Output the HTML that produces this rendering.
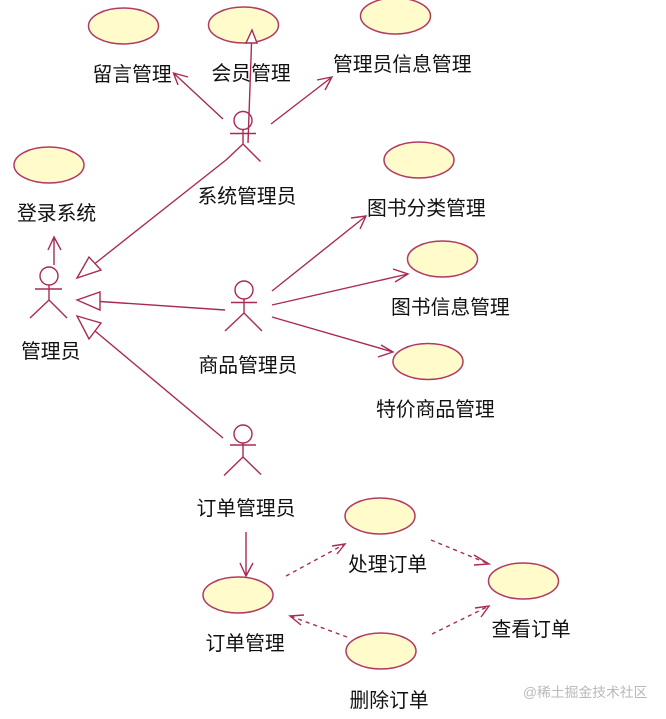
<!DOCTYPE html>
<html><head><meta charset="utf-8"><style>
html,body{margin:0;padding:0;background:#fff;width:666px;height:719px;overflow:hidden}
svg{display:block;filter:blur(0.35px)}
text{font-family:"Liberation Sans","WenQuanYi Zen Hei","Noto Sans CJK SC",sans-serif;font-size:19.8px;fill:#111}
.e{fill:#fffbcb;stroke:#b23a62;stroke-width:1.5}
.l{fill:none;stroke:#a82a55;stroke-width:1.4}
.d{fill:none;stroke:#a82a55;stroke-width:1.4;stroke-dasharray:4 4}
.a{fill:#fff;stroke:#a82a55;stroke-width:1.4}
</style></head><body>
<svg width="666" height="719" viewBox="0 0 666 719" xmlns="http://www.w3.org/2000/svg">
<rect width="666" height="719" fill="#fff"/>
<ellipse class="e" cx="123.5" cy="26" rx="35" ry="18"/>
<ellipse class="e" cx="243.5" cy="25" rx="35" ry="18"/>
<ellipse class="e" cx="395.5" cy="16" rx="35" ry="18"/>
<ellipse class="e" cx="49" cy="165" rx="35" ry="18"/>
<ellipse class="e" cx="419" cy="160" rx="35" ry="18"/>
<ellipse class="e" cx="442.5" cy="259" rx="35" ry="18"/>
<ellipse class="e" cx="428" cy="361.500" rx="35" ry="18"/>
<ellipse class="e" cx="380" cy="516" rx="35" ry="18"/>
<ellipse class="e" cx="523.500" cy="581" rx="35" ry="18"/>
<ellipse class="e" cx="238" cy="595" rx="35" ry="18"/>
<ellipse class="e" cx="381" cy="651" rx="35" ry="18"/>
<circle class="l" cx="243" cy="120.500" r="9"/><path class="l" d="M230 133.500H256M243 129.500V144M243 144L260.500 161.500M243 144L226 160"/>
<circle class="l" cx="49" cy="276" r="9"/><path class="l" d="M35 289H62M49 285V300M49 300L30 318M49 300L67 318"/>
<circle class="l" cx="244" cy="290" r="9"/><path class="l" d="M231 302.500H257M244 299V313M244 313L225 331M244 313L262 331"/>
<circle class="l" cx="243" cy="434" r="9"/><path class="l" d="M230 445H256M243 443V457M243 457L224 475.500M243 457L261 474.500"/>
<path class="l" d="M223 119L173.500 73M188 77L173.500 73L178 85"/>
<path class="l" d="M248 143L252 30"/>
<path class="a" d="M252 30L246 43L257 43Z"/>
<path class="l" d="M271 124L332 77M317 80L332 77L325 90"/>
<path class="l" d="M54 265V237M48 250L54 237L61 250"/>
<path class="l" d="M226 160L95 263.500"/>
<path class="a" d="M77 278L89 257L101 270Z"/>
<path class="l" d="M225 310L100 301.500"/>
<path class="a" d="M77 300L100 292L100 310Z"/>
<path class="l" d="M223 438L95 331"/>
<path class="a" d="M77 316L101 323L89 339Z"/>
<path class="l" d="M272 291L366 216M351 218L366 216L360 229"/>
<path class="l" d="M272 305L408 274M393 269L408 274L395 282"/>
<path class="l" d="M272 317L393 352M378 357L393 352L381 345"/>
<path class="l" d="M246 532V576M240 563L246 576L253 563"/>
<path class="d" d="M286 576L345 544"/>
<path class="l" d="M332 546L345 544L337 554"/>
<path class="d" d="M431 540L489 564"/>
<path class="l" d="M474 555L489 564L474 565"/>
<path class="d" d="M432 634L489 606"/>
<path class="l" d="M475 608L489 606L481 617"/>
<path class="d" d="M347 637L290 616"/>
<path class="l" d="M304 615L290 616L301 625"/>
<text x="92.500" y="81">留言管理</text>
<text x="211.500" y="80">会员管理</text>
<text x="333" y="71">管理员信息管理</text>
<text x="17" y="220">登录系统</text>
<text x="197.500" y="203">系统管理员</text>
<text x="367" y="215">图书分类管理</text>
<text x="391" y="314">图书信息管理</text>
<text x="21" y="358">管理员</text>
<text x="198.500" y="372">商品管理员</text>
<text x="376" y="416">特价商品管理</text>
<text x="196.500" y="515">订单管理员</text>
<text x="348" y="571">处理订单</text>
<text x="205.500" y="650">订单管理</text>
<text x="491.500" y="636">查看订单</text>
<text x="349.500" y="707">删除订单</text>
<text x="523" y="697" style="font-size:13.8px;fill:#b9b9b9">@稀土掘金技术社区</text>
</svg>
</body></html>
